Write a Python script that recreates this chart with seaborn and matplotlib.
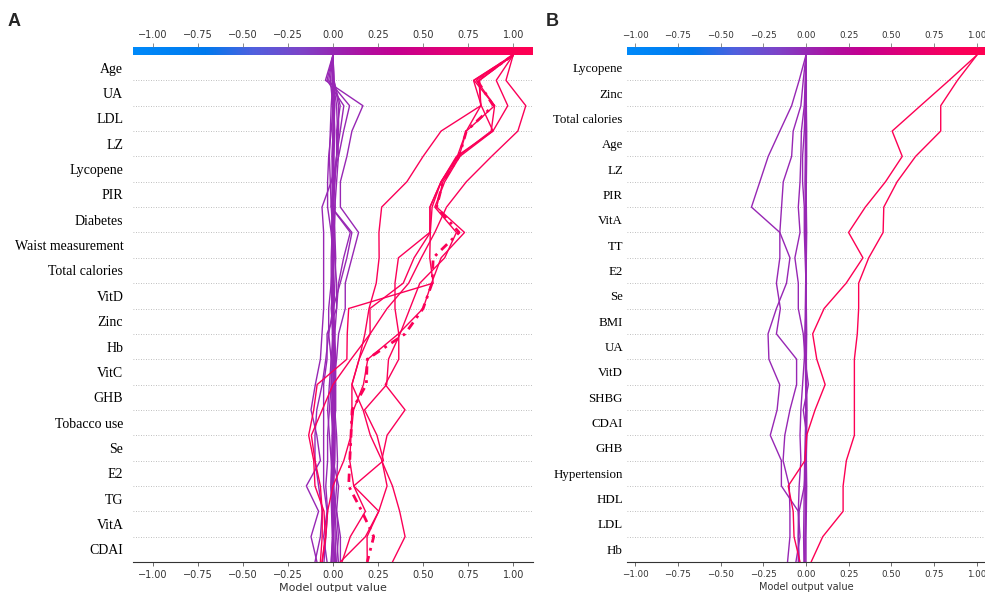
import numpy as np
import matplotlib
matplotlib.use("Agg")
import matplotlib.pyplot as plt
from matplotlib.colors import LinearSegmentedColormap, Normalize
import seaborn as sns

sns.set_theme(style="white")
plt.rcParams["font.family"] = ["DejaVu Sans"]

# ---------------- data ----------------
features_a = ["Age", "UA", "LDL", "LZ", "Lycopene", "PIR", "Diabetes",
              "Waist measurement", "Total calories", "VitD", "Zinc", "Hb",
              "VitC", "GHB", "Tobacco use", "Se", "E2", "TG", "VitA", "CDAI"]

features_b = ["Lycopene", "Zinc", "Total calories", "Age", "LZ", "PIR", "VitA",
              "TT", "E2", "Se", "BMI", "UA", "VitD", "SHBG", "CDAI", "GHB",
              "Hypertension", "HDL", "LDL", "Hb"]

# cumulative model output at each feature boundary, listed from the top
# (final prediction) down to the bottom of the displayed features
a_highlight = [1.00, 0.80, 0.89, 0.74, 0.70, 0.61, 0.575, 0.70, 0.556, 0.55, 0.50,
               0.40, 0.19, 0.185, 0.106, 0.10, 0.093, 0.087, 0.16, 0.226, 0.19]

a_positive = [
    [1.00, 0.81, 0.82, 0.60, 0.50, 0.41, 0.27, 0.255, 0.256, 0.24, 0.20,
     0.177, 0.145, 0.105, 0.167, 0.207, 0.272, 0.30, 0.254, 0.18, 0.04],
    [1.00, 0.78, 0.823, 0.888, 0.685, 0.60, 0.538, 0.537, 0.363, 0.344, 0.344,
     0.365, 0.365, 0.29, 0.40, 0.30, 0.27, 0.33, 0.37, 0.40, 0.33],
    [1.00, 0.96, 1.07, 1.026, 0.88, 0.74, 0.63, 0.565, 0.49, 0.42, 0.30,
     0.206, 0.10, 0.0, -0.06, -0.12, -0.10, -0.07, -0.06, -0.06, -0.07],
    [1.00, 0.906, 0.97, 0.888, 0.704, 0.62, 0.565, 0.685, 0.62, 0.482, 0.427,
     0.372, 0.308, 0.298, 0.175, 0.244, 0.28, 0.115, 0.18, 0.096, 0.05],
    [1.00, 0.796, 0.897, 0.878, 0.694, 0.60, 0.538, 0.54, 0.537, 0.556, 0.087,
     0.079, 0.077, -0.088, -0.107, -0.135, -0.107, -0.10, -0.05, -0.043, -0.061],
    [1.00, 0.814, 0.82, 0.74, 0.70, 0.61, 0.575, 0.73, 0.60, 0.547, 0.50,
     0.363, 0.193, 0.169, 0.114, 0.10, 0.093, 0.115, 0.254, 0.189, 0.19],
    [1.00, 0.783, 0.897, 0.74, 0.69, 0.60, 0.55, 0.54, 0.45, 0.39, 0.205,
     0.206, 0.145, 0.105, 0.105, 0.10, 0.06, 0.0, -0.03, -0.04, -0.06],
]

a_negative = [
    [0, -0.042, 0.166, 0.105, 0.077, 0.041, 0.041, 0.142, 0.105, 0.068, 0.068,
     0.031, 0.02, 0.0, -0.01, 0.0, 0.0, 0.031, 0.02, 0.041, 0.041],
    [0, -0.024, 0.092, 0.059, 0.031, -0.01, -0.061, -0.052, -0.052, -0.052, -0.052,
     -0.061, -0.07, -0.098, -0.122, -0.09, -0.07, -0.148, -0.08, -0.122, -0.089],
    [0, 0.005, 0.031, 0.031, 0.02, 0.0, -0.01, 0.096, 0.059, 0.031, 0.02,
     -0.033, -0.033, -0.052, -0.052, -0.052, -0.052, -0.052, -0.033, -0.052, -0.033],
    [0, -0.033, 0.06, 0.04, 0.02, 0.01, -0.009, 0.105, 0.077, 0.04, 0.0,
     -0.024, -0.04, -0.06, -0.09, -0.1, -0.1, -0.08, -0.06, -0.07, -0.10],
    [0, 0.005, 0.04, 0.02, 0.02, 0.01, 0.0, 0.0, 0.0, -0.01, -0.024,
     -0.024, -0.01, -0.01, 0.0, 0.01, 0.01, 0.0, 0.0, 0.0, 0.01],
    [0, -0.015, 0.0, -0.01, -0.024, -0.03, -0.03, -0.01, 0.0, 0.0, 0.0,
     0.01, 0.015, 0.015, 0.015, 0.0, -0.005, -0.01, 0.0, 0.0, 0.0],
    [0, 0.0, 0.01, 0.005, 0.0, -0.005, 0.0, 0.01, 0.015, 0.01, 0.005,
     0.0, -0.01, -0.02, -0.03, -0.02, -0.01, 0.0, 0.02, 0.03, 0.02],
    [0, 0.002, 0.0, 0.0, -0.005, 0.0, 0.005, 0.0, -0.005, 0.0, 0.0,
     0.005, 0.0, 0.0, -0.005, 0.0, 0.005, 0.0, -0.005, 0.0, 0.0],
    [0, -0.005, 0.005, 0.01, 0.005, 0.0, 0.0, -0.005, -0.01, -0.01, -0.005,
     0.0, 0.005, 0.01, 0.01, 0.005, 0.0, 0.0, 0.01, 0.02, 0.03],
    [0, 0.003, 0.008, 0.004, 0.0, 0.0, -0.004, -0.008, -0.004, 0.0, 0.004,
     0.008, 0.004, 0.0, 0.0, -0.004, -0.008, -0.012, -0.008, -0.004, -0.01],
    [0, 0.0, -0.01, -0.015, -0.02, -0.015, -0.01, 0.0, 0.01, 0.02, 0.02,
     0.01, 0.0, -0.01, -0.02, -0.03, -0.03, -0.04, -0.03, -0.04, -0.05],
    [0, 0.0, 0.02, 0.025, 0.03, 0.02, 0.01, 0.0, 0.005, 0.0, -0.01,
     0.0, 0.005, 0.01, 0.01, 0.02, 0.025, 0.02, 0.01, 0.0, -0.01],
    [0, -0.004, 0.0, 0.004, 0.004, 0.008, 0.012, 0.008, 0.004, 0.0, -0.004,
     -0.004, 0.0, 0.004, 0.008, 0.012, 0.008, 0.004, 0.0, 0.004, 0.008],
    [0, 0.004, 0.004, 0.0, -0.004, -0.004, 0.0, 0.004, 0.0, -0.004, 0.0,
     0.004, 0.008, 0.004, 0.0, -0.004, 0.0, 0.004, 0.008, 0.012, 0.015],
]

b_positive = [
    [1.00, 0.837, 0.67, 0.504, 0.563, 0.465, 0.347, 0.249, 0.333, 0.235, 0.106,
     0.039, 0.063, 0.112, 0.053, 0.004, -0.006, -0.104, -0.075, -0.07, -0.035],
    [1.00, 0.886, 0.788, 0.788, 0.641, 0.533, 0.455, 0.451, 0.367, 0.308, 0.308,
     0.30, 0.283, 0.283, 0.283, 0.283, 0.236, 0.217, 0.217, 0.098, 0.03],
]

b_negative = [
    [0, -0.04, -0.084, -0.153, -0.221, -0.27, -0.319, -0.153, -0.094, -0.114, -0.173,
     -0.222, -0.217, -0.154, -0.169, -0.209, -0.144, -0.144, -0.045, -0.035, -0.059],
    [0, -0.016, -0.03, -0.075, -0.084, -0.133, -0.143, -0.153, -0.153, -0.173, -0.15,
     -0.173, -0.055, -0.055, -0.094, -0.124, -0.134, -0.098, -0.094, -0.094, -0.108],
    [0, -0.005, -0.01, -0.027, -0.03, -0.035, -0.045, -0.035, -0.065, -0.045, -0.045,
     -0.016, -0.006, 0.014, -0.016, 0.004, 0.0, -0.01, -0.04, -0.045, -0.039],
    [0, 0.0, -0.005, -0.01, -0.02, -0.02, -0.01, -0.01, -0.005, 0.0, 0.0,
     -0.005, -0.01, -0.02, -0.03, -0.035, -0.03, -0.04, -0.045, -0.045, -0.045],
    [0, 0.0, 0.002, 0.0, -0.002, 0.0, 0.002, 0.004, 0.002, 0.0, -0.002,
     0.0, 0.002, 0.004, 0.006, 0.004, 0.002, 0.0, -0.002, -0.004, -0.006],
    [0, -0.002, -0.004, -0.004, -0.002, 0.0, 0.0, 0.002, 0.0, -0.002, -0.004,
     -0.006, -0.004, -0.002, 0.0, 0.002, 0.0, -0.002, -0.004, -0.006, -0.008],
    [0, 0.002, 0.002, 0.004, 0.004, 0.002, 0.0, -0.002, -0.002, 0.0, 0.002,
     0.004, 0.002, 0.0, -0.002, 0.0, 0.002, 0.004, 0.002, 0.0, 0.0],
    [0, 0.0, 0.0, -0.002, -0.004, -0.006, -0.004, -0.002, 0.0, 0.002, 0.0,
     -0.002, 0.0, 0.002, 0.0, -0.004, -0.008, -0.01, -0.012, -0.014, -0.012],
]

tick_values = [-1.00, -0.75, -0.50, -0.25, 0.00, 0.25, 0.50, 0.75, 1.00]

# ---------------- styling ----------------
red_blue = LinearSegmentedColormap.from_list("red_blue", [
    (0.00, (0 / 255, 138 / 255, 250 / 255)),
    (0.18, (0 / 255, 122 / 255, 238 / 255)),
    (0.30, (80 / 255, 96 / 255, 222 / 255)),
    (0.42, (125 / 255, 68 / 255, 200 / 255)),
    (0.50, (150 / 255, 40 / 255, 180 / 255)),
    (0.58, (175 / 255, 16 / 255, 160 / 255)),
    (0.66, (196 / 255, 0 / 255, 144 / 255)),
    (0.78, (224 / 255, 0 / 255, 118 / 255)),
    (0.90, (246 / 255, 0 / 255, 94 / 255)),
    (1.00, (255 / 255, 0 / 255, 82 / 255)),
])

fig = plt.figure(figsize=(9.85, 5.92), dpi=100)
W, H = 985.0, 592.0


def draw_panel(left_px, right_px, xlim, features, negative, positive, highlight,
               letter, letter_x, label_size, label_pad, tick_size, xlabel_size):
    top_px, bottom_px, bar_px = 55.0, 562.0, 8.0
    ax = fig.add_axes([left_px / W, 1 - bottom_px / H,
                       (right_px - left_px) / W, (bottom_px - top_px) / H])
    cax = fig.add_axes([left_px / W, 1 - top_px / H,
                        (right_px - left_px) / W, bar_px / H])
    n = len(features)
    ypos = np.arange(n, -1, -1)
    norm = Normalize(vmin=xlim[0], vmax=xlim[1])

    for i in range(1, n):
        ax.axhline(i, color="#aaaaaa", lw=0.6, ls=(0, (1, 2)), zorder=0)

    for path in negative:
        sns.lineplot(x=path, y=ypos, sort=False, estimator=None, ax=ax,
                     color=red_blue(norm(path[0])), lw=1.0, zorder=2)
    for path in positive:
        sns.lineplot(x=path, y=ypos, sort=False, estimator=None, ax=ax,
                     color=red_blue(norm(path[0])), lw=1.0, zorder=3)
    if highlight is not None:
        sns.lineplot(x=highlight, y=ypos, sort=False, estimator=None, ax=ax,
                     color=red_blue(norm(highlight[0])), lw=2.0,
                     linestyle=(0, (3, 2, 1, 2)), zorder=4)

    ax.set_xlim(*xlim)
    ax.set_ylim(0, n)
    ax.set_yticks(np.arange(n) + 0.5)
    ax.set_yticklabels(features[::-1], fontsize=label_size,
                       family="Liberation Serif", color="black")
    ax.tick_params(axis="y", length=0, pad=label_pad)
    ax.set_xticks(tick_values)
    ax.set_xticklabels([f"{t:.2f}".replace("-", "\u2212") for t in tick_values],
                       fontsize=tick_size, color="#333333")
    ax.tick_params(axis="x", length=3, width=0.6, color="#555555", pad=3,
                   bottom=True)
    for side in ("left", "right", "top"):
        ax.spines[side].set_visible(False)
    ax.spines["bottom"].set_color("#333333")
    ax.spines["bottom"].set_linewidth(0.8)
    ax.set_xlabel("Model output value", fontsize=xlabel_size, color="#333333",
                  labelpad=2)
    ax.set_ylabel("")

    grad = np.linspace(xlim[0], xlim[1], 600)[None, :]
    cax.imshow(grad, aspect="auto", cmap=red_blue, norm=norm,
               extent=[xlim[0], xlim[1], 0, 1])
    cax.set_xlim(*xlim)
    cax.set_yticks([])
    cax.xaxis.tick_top()
    cax.set_xticks(tick_values)
    cax.set_xticklabels([f"{t:.2f}".replace("-", "\u2212") for t in tick_values],
                        fontsize=tick_size, color="#333333")
    cax.tick_params(axis="x", length=3, width=0.6, color="#777777", pad=2,
                    top=True, bottom=False)
    for s in cax.spines.values():
        s.set_visible(False)

    fig.text(letter_x / W, 1 - 21 / H, letter, fontsize=13, fontweight="bold",
             family="Liberation Sans", ha="left", va="center")


draw_panel(133, 533, (-1.11, 1.11), features_a, a_negative, a_positive,
           a_highlight, "A", 8, 10, 7, 7, 8)
draw_panel(627, 985, (-1.047, 1.047), features_b, b_negative, b_positive,
           None, "B", 546, 9.3, 3, 6.3, 7)

fig.savefig("out.png", dpi=100)
